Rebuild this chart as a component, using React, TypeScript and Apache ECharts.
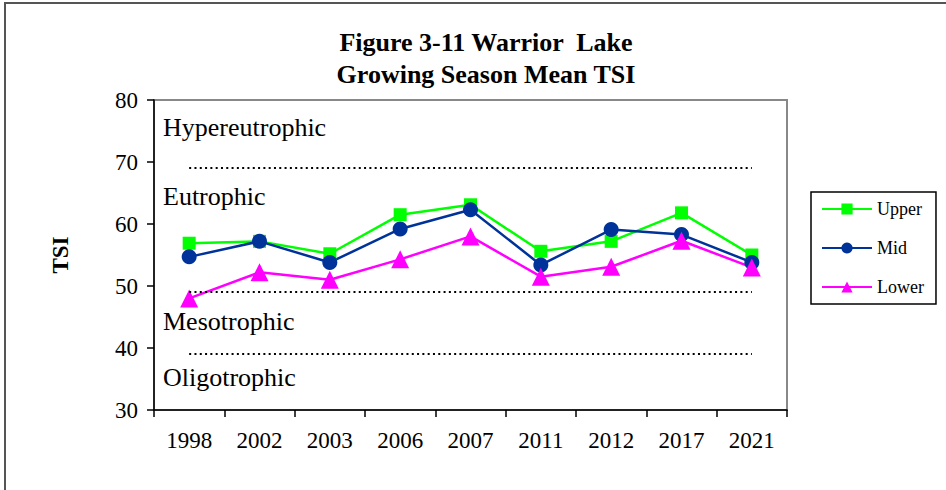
import React, { useEffect, useRef } from "react";
import * as echarts from "echarts";

const categories = ["1998", "2002", "2003", "2006", "2007", "2011", "2012", "2017", "2021"];
const upper = [56.9, 57.2, 55.2, 61.5, 63.1, 55.6, 57.2, 61.8, 55.0];
const mid = [54.7, 57.2, 53.8, 59.2, 62.3, 53.4, 59.1, 58.3, 53.8];
const lower = [48.0, 52.2, 51.0, 54.3, 58.0, 51.5, 53.1, 57.3, 53.0];
const thresholds = [69, 49, 39];
const zoneLabels = ["Hypereutrophic", "Eutrophic", "Mesotrophic", "Oligotrophic"];
const zoneLabelY = [128, 197, 322, 378];

const FONT = "'Liberation Serif', 'Times New Roman', serif";

export default function App() {
  const ref = useRef<HTMLDivElement>(null);
  useEffect(() => {
    if (!ref.current) return;
    const chart = echarts.init(ref.current, undefined, { renderer: "svg" });
    const dotted = thresholds.map((t) => [
      { coord: [0, t] },
      { coord: [categories.length - 1, t] },
    ]);
    chart.setOption({
      animation: false,
      backgroundColor: "#fff",
      textStyle: { fontFamily: FONT, color: "#000" },
      title: {
        text: "Figure 3-11 Warrior  Lake\nGrowing Season Mean TSI",
        left: 481,
        top: 21,
        textAlign: "center",
        textStyle: {
          fontFamily: FONT,
          fontWeight: "bold",
          fontSize: 26,
          lineHeight: 32,
          color: "#000",
        },
      },
      grid: {
        left: 154,
        right: 159,
        top: 100,
        bottom: 80,
        show: true,
        borderColor: "#888",
        borderWidth: 2,
        backgroundColor: "transparent",
      },
      legend: {
        orient: "vertical",
        left: 811,
        top: 192,
        padding: [8, 12, 8, 10],
        itemWidth: 50,
        itemHeight: 14,
        itemGap: 21,
        borderColor: "#000",
        borderWidth: 1.5,
        textStyle: { fontFamily: FONT, fontSize: 18, color: "#000" },
        data: ["Upper", "Mid", "Lower"],
      },
      xAxis: {
        type: "category",
        data: categories,
        boundaryGap: true,
        axisLine: { show: true, lineStyle: { color: "#000", width: 1.5 } },
        axisTick: { show: true, length: 7, lineStyle: { color: "#000", width: 1.5 } },
        axisLabel: { fontFamily: FONT, fontSize: 23, color: "#000", margin: 19 },
        splitLine: { show: false },
      },
      yAxis: {
        type: "value",
        min: 30,
        max: 80,
        interval: 10,
        name: "TSI",
        nameLocation: "middle",
        nameRotate: 90,
        nameGap: 82,
        nameTextStyle: { fontFamily: FONT, fontSize: 23, fontWeight: "bold", color: "#000" },
        axisLine: { show: true, lineStyle: { color: "#000", width: 1.5 } },
        axisTick: { show: true, length: 7, lineStyle: { color: "#000", width: 1.5 } },
        axisLabel: { fontFamily: FONT, fontSize: 23, color: "#000", margin: 16 },
        splitLine: { show: false },
      },
      graphic: [
        {
          type: "rect",
          shape: { x: 5, y: 3, width: 1000, height: 600 },
          style: { fill: "none", stroke: "#555", lineWidth: 2 },
          silent: true,
        },
        ...zoneLabels.map((t, i) => ({
          type: "text",
          left: 163,
          top: zoneLabelY[i] - 14,
          style: { text: t, font: `26px ${FONT}`, fill: "#000" },
          silent: true,
        })),
      ],
      series: [
        {
          name: "Upper",
          type: "line",
          data: upper,
          symbol: "rect",
          symbolSize: 13,
          lineStyle: { color: "#00ff00", width: 2.5 },
          itemStyle: { color: "#00ff00" },
          markLine: {
            silent: true,
            symbol: "none",
            label: { show: false },
            lineStyle: { color: "#000", type: [2, 3.3], width: 2 },
            data: dotted,
          },
        },
        {
          name: "Mid",
          type: "line",
          data: mid,
          symbol: "circle",
          symbolSize: 15,
          lineStyle: { color: "#003399", width: 2.5 },
          itemStyle: { color: "#003399" },
        },
        {
          name: "Lower",
          type: "line",
          data: lower,
          symbol: "triangle",
          symbolSize: 18,
          lineStyle: { color: "#ff00ff", width: 2.5 },
          itemStyle: { color: "#ff00ff" },
        },
      ],
    });
    return () => chart.dispose();
  }, []);
  return (
    <div
      ref={ref}
      style={{ position: "fixed", left: 0, top: 0, width: 946, height: 490 }}
    />
  );
}
